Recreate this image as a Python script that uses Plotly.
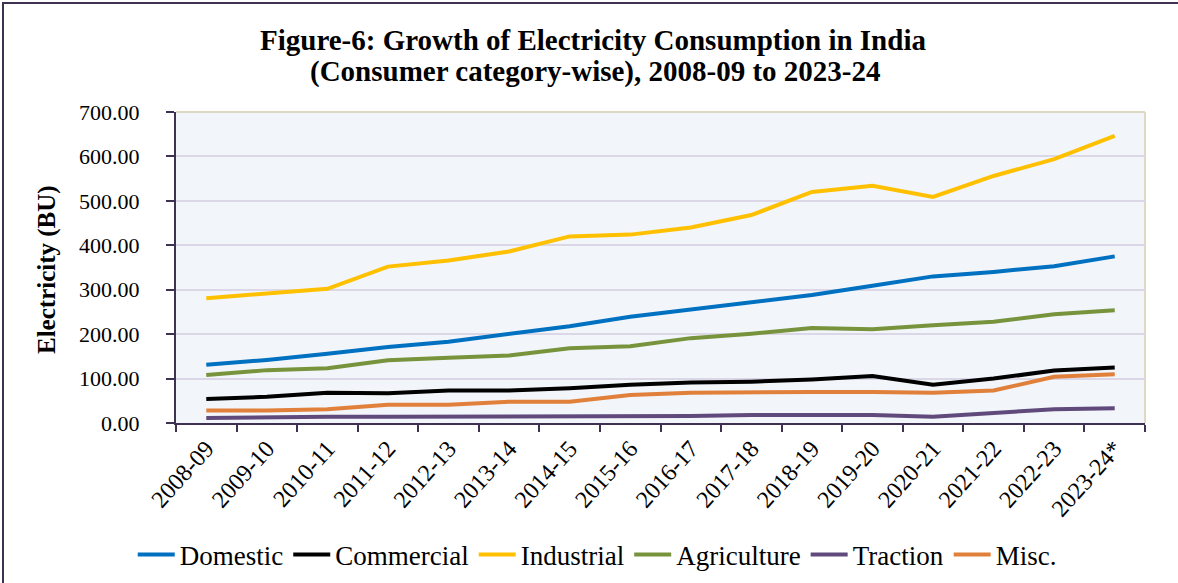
import plotly.graph_objects as go

years = ["2008-09", "2009-10", "2010-11", "2011-12", "2012-13", "2013-14", "2014-15", "2015-16",
         "2016-17", "2017-18", "2018-19", "2019-20", "2020-21", "2021-22", "2022-23", "2023-24*"]

domestic = [131, 142, 156, 171, 183, 200, 218, 239, 255, 272, 288, 309, 330, 340, 353, 375]
commercial = [54, 59, 68, 67, 73, 73, 78, 86, 91, 93, 98, 106, 86, 100, 118, 125]
industrial = [281, 291, 302, 352, 366, 386, 420, 424, 440, 468, 520, 534, 509, 556, 594, 646]
agriculture = [108, 119, 123, 141, 147, 152, 168, 173, 191, 201, 214, 211, 220, 228, 245, 254]
traction = [11, 13, 14, 14, 14, 16, 16, 16, 16, 18, 18, 18, 14, 22, 31, 33]
misc = [28, 28, 31, 41, 41, 48, 48, 63, 68, 70, 70, 70, 68, 73, 104, 110]

series = [
    ("Domestic", domestic, "#0070C0"),
    ("Commercial", commercial, "#000000"),
    ("Industrial", industrial, "#FFC000"),
    ("Agriculture", agriculture, "#77933C"),
    ("Traction", traction, "#604A7B"),
    ("Misc.", misc, "#E0803A"),
]

SERIF = "Liberation Serif"
AXIS = "#3F3151"

fig = go.Figure()
for name, vals, col in series:
    fig.add_trace(go.Scatter(x=years, y=vals, name=name, mode="lines",
                             line=dict(color=col, width=4)))

W, H = 1178, 583
L, R, T, B = 176, 33, 112, 160
PW, PH = W - L - R, H - T - B


def px_x(x):
    return (x - L) / PW


def px_y(y):
    return (H - B - y) / PH


fig.update_layout(
    width=W, height=H,
    margin=dict(l=L, r=R, t=T, b=B, autoexpand=False),
    paper_bgcolor="white",
    plot_bgcolor="#F2F5FA",
    font=dict(family=SERIF, color="#000000", size=20),
    showlegend=True,
    legend=dict(orientation="h", x=0.507, xref="container", xanchor="center",
                y=1 - 555 / H, yref="container", yanchor="middle",
                font=dict(family=SERIF, size=27, color="#000000"),
                itemwidth=37, traceorder="normal", bgcolor="rgba(0,0,0,0)"),
    xaxis=dict(
        type="category", range=[-0.5, len(years) - 0.5],
        tickangle=-48, tickson="boundaries",
        ticks="outside", ticklen=7, tickcolor=AXIS, tickwidth=1.5,
        showline=True, linecolor=AXIS, linewidth=2,
        showgrid=False, zeroline=False,
        tickfont=dict(family=SERIF, size=24, color="#000000"),
        fixedrange=True,
    ),
    yaxis=dict(
        range=[0, 700], dtick=100, tickformat=".2f",
        ticks="outside", ticklen=8, tickcolor=AXIS, tickwidth=1.5,
        ticklabelstandoff=22,
        showline=True, linecolor=AXIS, linewidth=2,
        showgrid=True, gridcolor="#DCD7E6", gridwidth=1.5,
        zeroline=False,
        tickfont=dict(family=SERIF, size=22, color="#000000"),
        fixedrange=True,
    ),
    annotations=[
        dict(text="<b>Figure-6: Growth of Electricity Consumption in India</b>",
             xref="paper", yref="paper", x=px_x(593), y=px_y(40),
             xanchor="center", yanchor="middle", showarrow=False,
             font=dict(family=SERIF, size=29, color="#000000")),
        dict(text="<b>(Consumer category-wise), 2008-09 to 2023-24</b>",
             xref="paper", yref="paper", x=px_x(595), y=px_y(72),
             xanchor="center", yanchor="middle", showarrow=False,
             font=dict(family=SERIF, size=29, color="#000000")),
        dict(text="<b>Electricity (BU)</b>", textangle=-90,
             xref="paper", yref="paper", x=px_x(47), y=px_y(270),
             xanchor="center", yanchor="middle", showarrow=False,
             font=dict(family=SERIF, size=25, color="#000000")),
    ],
    shapes=[
        dict(type="line", xref="paper", yref="paper", x0=0, x1=1, y0=1, y1=1,
             line=dict(color="#DDD9C3", width=2), layer="below"),
        dict(type="line", xref="paper", yref="paper", x0=1, x1=1, y0=0, y1=1,
             line=dict(color="#DDD9C3", width=2), layer="below"),
        dict(type="rect", xref="paper", yref="paper",
             x0=px_x(3), x1=px_x(W + 20), y0=px_y(H + 20), y1=px_y(3),
             line=dict(color="#3F3151", width=2), fillcolor="rgba(0,0,0,0)"),
    ],
)

fig.write_html("out.html")
